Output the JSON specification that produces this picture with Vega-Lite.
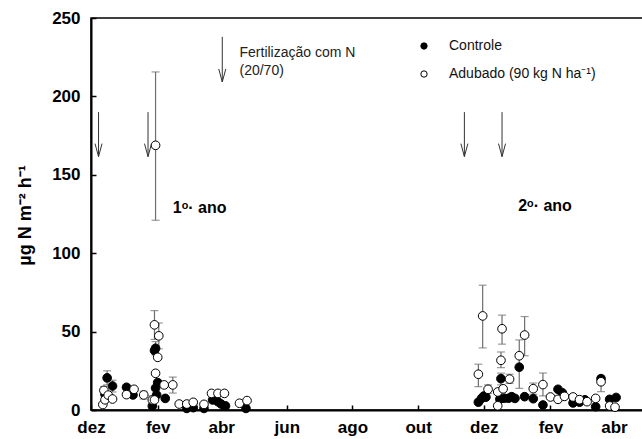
{
  "$schema": "https://vega.github.io/schema/vega-lite/v6.json",
  "width": 552,
  "height": 392,
  "autosize": {"type": "none"},
  "padding": {"left": 91, "top": 18, "right": 0, "bottom": 29},
  "background": "white",
  "datasets": {
    "pts": [
      {"d": "2000-12-14", "s": "Controle", "v": 10},
      {"d": "2000-12-16", "s": "Controle", "v": 20.5, "lo": 16, "hi": 25},
      {"d": "2000-12-21", "s": "Controle", "v": 15.3, "lo": 11.5, "hi": 19},
      {"d": "2001-01-03", "s": "Controle", "v": 14.5},
      {"d": "2001-01-09", "s": "Controle", "v": 9.6},
      {"d": "2001-01-27", "s": "Controle", "v": 2.5},
      {"d": "2001-01-29", "s": "Controle", "v": 37.9},
      {"d": "2001-01-30", "s": "Controle", "v": 39.4, "lo": 35, "hi": 43.6},
      {"d": "2001-01-30", "s": "Controle", "v": 14},
      {"d": "2001-02-01", "s": "Controle", "v": 17.5},
      {"d": "2001-01-31", "s": "Controle", "v": 9.6},
      {"d": "2001-02-08", "s": "Controle", "v": 7.4},
      {"d": "2001-02-28", "s": "Controle", "v": 1},
      {"d": "2001-03-06", "s": "Controle", "v": 1.5},
      {"d": "2001-03-16", "s": "Controle", "v": 1},
      {"d": "2001-03-24", "s": "Controle", "v": 6.4},
      {"d": "2001-03-29", "s": "Controle", "v": 5.3},
      {"d": "2001-04-01", "s": "Controle", "v": 3.8},
      {"d": "2001-04-05", "s": "Controle", "v": 2.6},
      {"d": "2001-04-24", "s": "Controle", "v": 1},
      {"d": "2001-11-26", "s": "Controle", "v": 5},
      {"d": "2001-11-29", "s": "Controle", "v": 7.4},
      {"d": "2001-12-01", "s": "Controle", "v": 8.9},
      {"d": "2001-12-03", "s": "Controle", "v": 8.2},
      {"d": "2001-12-16", "s": "Controle", "v": 6.9},
      {"d": "2001-12-17", "s": "Controle", "v": 20, "lo": 16, "hi": 23.5},
      {"d": "2001-12-20", "s": "Controle", "v": 7.5},
      {"d": "2001-12-24", "s": "Controle", "v": 7.5},
      {"d": "2001-12-27", "s": "Controle", "v": 8.5},
      {"d": "2001-12-30", "s": "Controle", "v": 7.4},
      {"d": "2002-01-03", "s": "Controle", "v": 27.3},
      {"d": "2002-01-08", "s": "Controle", "v": 8.5},
      {"d": "2002-01-16", "s": "Controle", "v": 7.2},
      {"d": "2002-01-25", "s": "Controle", "v": 3.2},
      {"d": "2002-02-08", "s": "Controle", "v": 13.2},
      {"d": "2002-02-12", "s": "Controle", "v": 11},
      {"d": "2002-02-22", "s": "Controle", "v": 4.5},
      {"d": "2002-02-28", "s": "Controle", "v": 5},
      {"d": "2002-03-05", "s": "Controle", "v": 6.5},
      {"d": "2002-03-15", "s": "Controle", "v": 2.1},
      {"d": "2002-03-20", "s": "Controle", "v": 20},
      {"d": "2002-03-28", "s": "Controle", "v": 6.8},
      {"d": "2002-04-03", "s": "Controle", "v": 8},
      {"d": "2000-12-12", "s": "Adubado (90 kg N ha⁻¹)", "v": 3.5},
      {"d": "2000-12-13", "s": "Adubado (90 kg N ha⁻¹)", "v": 12.5, "lo": 10, "hi": 15},
      {"d": "2000-12-14", "s": "Adubado (90 kg N ha⁻¹)", "v": 6.5},
      {"d": "2000-12-17", "s": "Adubado (90 kg N ha⁻¹)", "v": 9.5},
      {"d": "2000-12-21", "s": "Adubado (90 kg N ha⁻¹)", "v": 7},
      {"d": "2001-01-03", "s": "Adubado (90 kg N ha⁻¹)", "v": 9.8},
      {"d": "2001-01-10", "s": "Adubado (90 kg N ha⁻¹)", "v": 13.2},
      {"d": "2001-01-19", "s": "Adubado (90 kg N ha⁻¹)", "v": 9.6, "lo": 7, "hi": 12},
      {"d": "2001-01-27", "s": "Adubado (90 kg N ha⁻¹)", "v": 6.4, "lo": 3.5, "hi": 9},
      {"d": "2001-01-29", "s": "Adubado (90 kg N ha⁻¹)", "v": 54.3, "lo": 45, "hi": 63.4},
      {"d": "2001-01-29", "s": "Adubado (90 kg N ha⁻¹)", "v": 6.4},
      {"d": "2001-01-30", "s": "Adubado (90 kg N ha⁻¹)", "v": 168.8, "lo": 121, "hi": 215.6},
      {"d": "2001-01-30", "s": "Adubado (90 kg N ha⁻¹)", "v": 23.4},
      {"d": "2001-02-01", "s": "Adubado (90 kg N ha⁻¹)", "v": 33.6},
      {"d": "2001-02-02", "s": "Adubado (90 kg N ha⁻¹)", "v": 47.3, "lo": 39, "hi": 55.5},
      {"d": "2001-02-07", "s": "Adubado (90 kg N ha⁻¹)", "v": 16},
      {"d": "2001-02-15", "s": "Adubado (90 kg N ha⁻¹)", "v": 16, "lo": 10.8, "hi": 21},
      {"d": "2001-02-21", "s": "Adubado (90 kg N ha⁻¹)", "v": 3.8},
      {"d": "2001-02-28", "s": "Adubado (90 kg N ha⁻¹)", "v": 3.8},
      {"d": "2001-03-06", "s": "Adubado (90 kg N ha⁻¹)", "v": 4.9},
      {"d": "2001-03-16", "s": "Adubado (90 kg N ha⁻¹)", "v": 3.6},
      {"d": "2001-03-23", "s": "Adubado (90 kg N ha⁻¹)", "v": 10.6},
      {"d": "2001-03-29", "s": "Adubado (90 kg N ha⁻¹)", "v": 10.6},
      {"d": "2001-04-04", "s": "Adubado (90 kg N ha⁻¹)", "v": 10.6},
      {"d": "2001-04-18", "s": "Adubado (90 kg N ha⁻¹)", "v": 4.3},
      {"d": "2001-04-25", "s": "Adubado (90 kg N ha⁻¹)", "v": 6},
      {"d": "2001-11-26", "s": "Adubado (90 kg N ha⁻¹)", "v": 22.8, "lo": 14.9, "hi": 29.2},
      {"d": "2001-11-30", "s": "Adubado (90 kg N ha⁻¹)", "v": 60, "lo": 39.6, "hi": 79.6},
      {"d": "2001-12-05", "s": "Adubado (90 kg N ha⁻¹)", "v": 13.2, "lo": 10.5, "hi": 16},
      {"d": "2001-12-14", "s": "Adubado (90 kg N ha⁻¹)", "v": 11.5},
      {"d": "2001-12-14", "s": "Adubado (90 kg N ha⁻¹)", "v": 2.7},
      {"d": "2001-12-17", "s": "Adubado (90 kg N ha⁻¹)", "v": 31.7, "lo": 27, "hi": 37},
      {"d": "2001-12-18", "s": "Adubado (90 kg N ha⁻¹)", "v": 51.8, "lo": 42, "hi": 60.5},
      {"d": "2001-12-19", "s": "Adubado (90 kg N ha⁻¹)", "v": 13.5},
      {"d": "2001-12-25", "s": "Adubado (90 kg N ha⁻¹)", "v": 19.7, "lo": 17, "hi": 22.8},
      {"d": "2002-01-03", "s": "Adubado (90 kg N ha⁻¹)", "v": 34.6, "lo": 13.8, "hi": 44.7},
      {"d": "2002-01-08", "s": "Adubado (90 kg N ha⁻¹)", "v": 47.8, "lo": 34.6, "hi": 59.6},
      {"d": "2002-01-16", "s": "Adubado (90 kg N ha⁻¹)", "v": 13.6, "lo": 10, "hi": 17.2},
      {"d": "2002-01-25", "s": "Adubado (90 kg N ha⁻¹)", "v": 16.2, "lo": 9, "hi": 23.6},
      {"d": "2002-02-01", "s": "Adubado (90 kg N ha⁻¹)", "v": 8.3},
      {"d": "2002-02-08", "s": "Adubado (90 kg N ha⁻¹)", "v": 6.8},
      {"d": "2002-02-14", "s": "Adubado (90 kg N ha⁻¹)", "v": 8.7},
      {"d": "2002-02-22", "s": "Adubado (90 kg N ha⁻¹)", "v": 8.3},
      {"d": "2002-02-28", "s": "Adubado (90 kg N ha⁻¹)", "v": 6.6},
      {"d": "2002-03-07", "s": "Adubado (90 kg N ha⁻¹)", "v": 5.3},
      {"d": "2002-03-15", "s": "Adubado (90 kg N ha⁻¹)", "v": 7.4},
      {"d": "2002-03-20", "s": "Adubado (90 kg N ha⁻¹)", "v": 18, "lo": 11.7, "hi": 21.7},
      {"d": "2002-03-28", "s": "Adubado (90 kg N ha⁻¹)", "v": 2.6},
      {"d": "2002-04-02", "s": "Adubado (90 kg N ha⁻¹)", "v": 1.8}
    ],
    "arrows": [
      {"d": "2000-12-08", "top": 190, "bot": 161.6},
      {"d": "2001-01-23", "top": 190, "bot": 161.6},
      {"d": "2001-04-02", "top": 238, "bot": 209.2},
      {"d": "2001-11-13", "top": 190, "bot": 161.6},
      {"d": "2001-12-18", "top": 190, "bot": 161.6}
    ],
    "fert": [
      {"d": "2001-04-18", "v": 225.4, "t": "Fertilização com N"},
      {"d": "2001-04-18", "v": 213.8, "t": "(20/70)"}
    ],
    "ano": [
      {"d": "2001-02-15", "v": 125.8, "t": "1ᵒ· ano"},
      {"d": "2002-01-02", "v": 126.6, "t": "2ᵒ· ano"}
    ]
  },
  "layer": [
    {
      "data": {"name": "pts"},
      "transform": [{"filter": "isValid(datum.hi)"}],
      "mark": {"type": "errorbar", "color": "#6e6e6e", "thickness": 1.2, "ticks": {"size": 8, "color": "#6e6e6e", "thickness": 1.2}},
      "encoding": {
        "x": {"field": "d", "type": "temporal",
          "scale": {"type": "utc", "nice": false, "domain": [{"year": 2000, "month": 12, "date": 1, "utc": true}, {"year": 2002, "month": 4, "date": 28, "utc": true}]},
          "axis": {
            "title": null,
            "labelFlush": false,
            "values": [
              {"year": 2000, "month": 12, "date": 1, "utc": true},
              {"year": 2001, "month": 2, "date": 1, "utc": true},
              {"year": 2001, "month": 4, "date": 1, "utc": true},
              {"year": 2001, "month": 6, "date": 1, "utc": true},
              {"year": 2001, "month": 8, "date": 1, "utc": true},
              {"year": 2001, "month": 10, "date": 1, "utc": true},
              {"year": 2001, "month": 12, "date": 1, "utc": true},
              {"year": 2002, "month": 2, "date": 1, "utc": true},
              {"year": 2002, "month": 4, "date": 1, "utc": true}
            ],
            "labelExpr": "['jan','fev','mar','abr','mai','jun','jul','ago','set','out','nov','dez'][utcmonth(datum.value)]"
          }
        },
        "y": {"field": "lo", "type": "quantitative",
          "scale": {"domain": [0, 250], "nice": false},
          "axis": {"title": "µg N m⁻² h⁻¹", "values": [0, 50, 100, 150, 200, 250], "labelFlush": false}
        },
        "y2": {"field": "hi"}
      }
    },
    {
      "data": {"name": "pts"},
      "mark": {"type": "point", "shape": "circle", "size": 75, "stroke": "black", "strokeWidth": 1, "opacity": 1, "fillOpacity": 1},
      "encoding": {
        "x": {"field": "d", "type": "temporal"},
        "y": {"field": "v", "type": "quantitative"},
        "fill": {"field": "s", "type": "nominal",
          "scale": {"domain": ["Controle", "Adubado (90 kg N ha⁻¹)"], "range": ["black", "white"]},
          "legend": {"title": null, "orient": "none", "legendX": 326, "legendY": 21, "padding": 0,
            "symbolType": "circle", "symbolSize": 40, "symbolStrokeColor": "black", "symbolStrokeWidth": 1,
            "labelFont": "Liberation Sans", "labelFontSize": 14, "labelColor": "#111", "labelOffset": 18, "rowPadding": 14}
        }
      }
    },
    {
      "data": {"name": "arrows"},
      "mark": {"type": "rule", "color": "#333", "strokeWidth": 1},
      "encoding": {
        "x": {"field": "d", "type": "temporal"},
        "y": {"field": "top", "type": "quantitative"},
        "y2": {"field": "bot"}
      }
    },
    {
      "data": {"name": "arrows"},
      "mark": {"type": "point", "shape": "M-0.27,-1L0,0L0.27,-1", "size": 676, "filled": false, "stroke": "#333", "strokeWidth": 1, "opacity": 1},
      "encoding": {
        "x": {"field": "d", "type": "temporal"},
        "y": {"field": "bot", "type": "quantitative"}
      }
    },
    {
      "data": {"name": "fert"},
      "mark": {"type": "text", "align": "left", "baseline": "alphabetic", "font": "Liberation Sans", "fontSize": 14, "color": "#222"},
      "encoding": {
        "x": {"field": "d", "type": "temporal"},
        "y": {"field": "v", "type": "quantitative"},
        "text": {"field": "t"}
      }
    },
    {
      "data": {"name": "ano"},
      "mark": {"type": "text", "align": "left", "baseline": "alphabetic", "font": "Liberation Sans", "fontWeight": "bold", "fontSize": 16, "color": "black"},
      "encoding": {
        "x": {"field": "d", "type": "temporal"},
        "y": {"field": "v", "type": "quantitative"},
        "text": {"field": "t"}
      }
    }
  ],
  "config": {
    "view": {"stroke": "black", "strokeWidth": 1.5},
    "font": "Liberation Sans",
    "axis": {
      "grid": false,
      "domainColor": "black",
      "domainWidth": 2,
      "tickColor": "black",
      "tickWidth": 1.5,
      "tickSize": -5,
      "labelFont": "Liberation Sans",
      "labelFontWeight": "bold",
      "labelFontSize": 17,
      "labelColor": "black",
      "titleColor": "black",
      "titleFont": "Liberation Sans"
    },
    "axisX": {"labelPadding": 14.5, "labelFlush": false},
    "axisY": {"labelPadding": 16, "labelFlush": false, "titleFontSize": 18, "titleFontWeight": "bold", "titleX": -61, "titleY": 197, "titleBaseline": "alphabetic", "titleAngle": -90}
  }
}
